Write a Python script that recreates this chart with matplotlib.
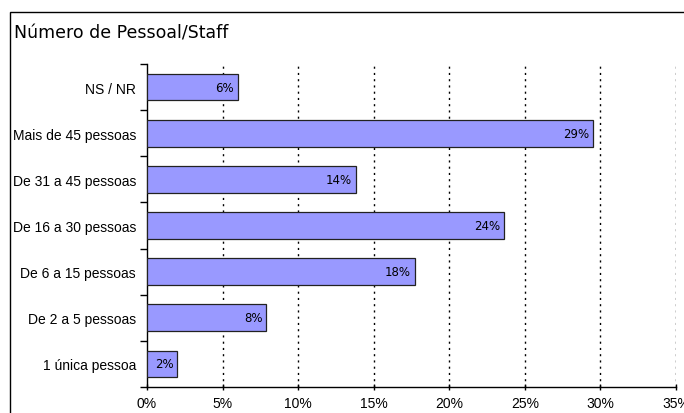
import numpy as np
import matplotlib.pyplot as plt
from matplotlib.patches import Rectangle

categories = ["1 única pessoa", "De 2 a 5 pessoas", "De 6 a 15 pessoas",
              "De 16 a 30 pessoas", "De 31 a 45 pessoas", "Mais de 45 pessoas",
              "NS / NR"]
values = [2.0, 7.9, 17.7, 23.6, 13.8, 29.5, 6.0]
value_labels = ["2%", "8%", "18%", "24%", "14%", "29%", "6%"]
xticks = [0, 5, 10, 15, 20, 25, 30, 35]
xtick_labels = ["0%", "5%", "10%", "15%", "20%", "25%", "30%", "35%"]

title = "Número de Pessoal/Staff"

fig = plt.figure(figsize=(6.84, 4.14), dpi=100)
ax = fig.add_axes([147 / 684, 1 - 388 / 414, (676 - 147) / 684, (388 - 65) / 414])

# outer frame of the chart area (clipped by the figure on right/bottom)
fig.patches.append(Rectangle((10 / 684, -0.1), 1.2, 1 - 12.5 / 414 + 0.1,
                             transform=fig.transFigure, fill=False,
                             edgecolor="black", linewidth=1.0))

fig.text(14 / 684, 1 - 33 / 414, title, fontsize=12.5, va="center", ha="left",
         family="DejaVu Sans")

y = np.arange(len(categories))
ax.barh(y, values, height=0.58, color="#9999FF", edgecolor="#222222",
        linewidth=0.9, zorder=3)

for yi, v, lab in zip(y, values, value_labels):
    ax.text(v - 0.25, yi, lab, ha="right", va="center", fontsize=8.5,
            family="DejaVu Sans", zorder=4)

ax.set_xlim(0, 35)
ax.set_ylim(-0.5, len(categories) - 0.5)
ax.set_xticks(xticks)
ax.set_xticklabels(xtick_labels, family="Liberation Sans", fontsize=10)
ax.set_yticks(y)
ax.set_yticklabels(categories, family="Liberation Sans", fontsize=10)
ax.set_yticks(np.arange(-0.5, len(categories)), minor=True)

ax.tick_params(axis="y", which="major", length=0, pad=8)
ax.tick_params(axis="y", which="minor", length=5, direction="out", width=1)
ax.tick_params(axis="x", which="major", length=5, direction="inout", width=1, pad=4)

for xv in xticks[1:]:
    ax.axvline(xv, color="black", linestyle=(0, (1.5, 3)), linewidth=1.0, zorder=1)

ax.spines["top"].set_visible(False)
ax.spines["right"].set_visible(False)
ax.spines["left"].set_linewidth(1.0)
ax.spines["bottom"].set_linewidth(1.0)

fig.savefig("out.png", dpi=100)
